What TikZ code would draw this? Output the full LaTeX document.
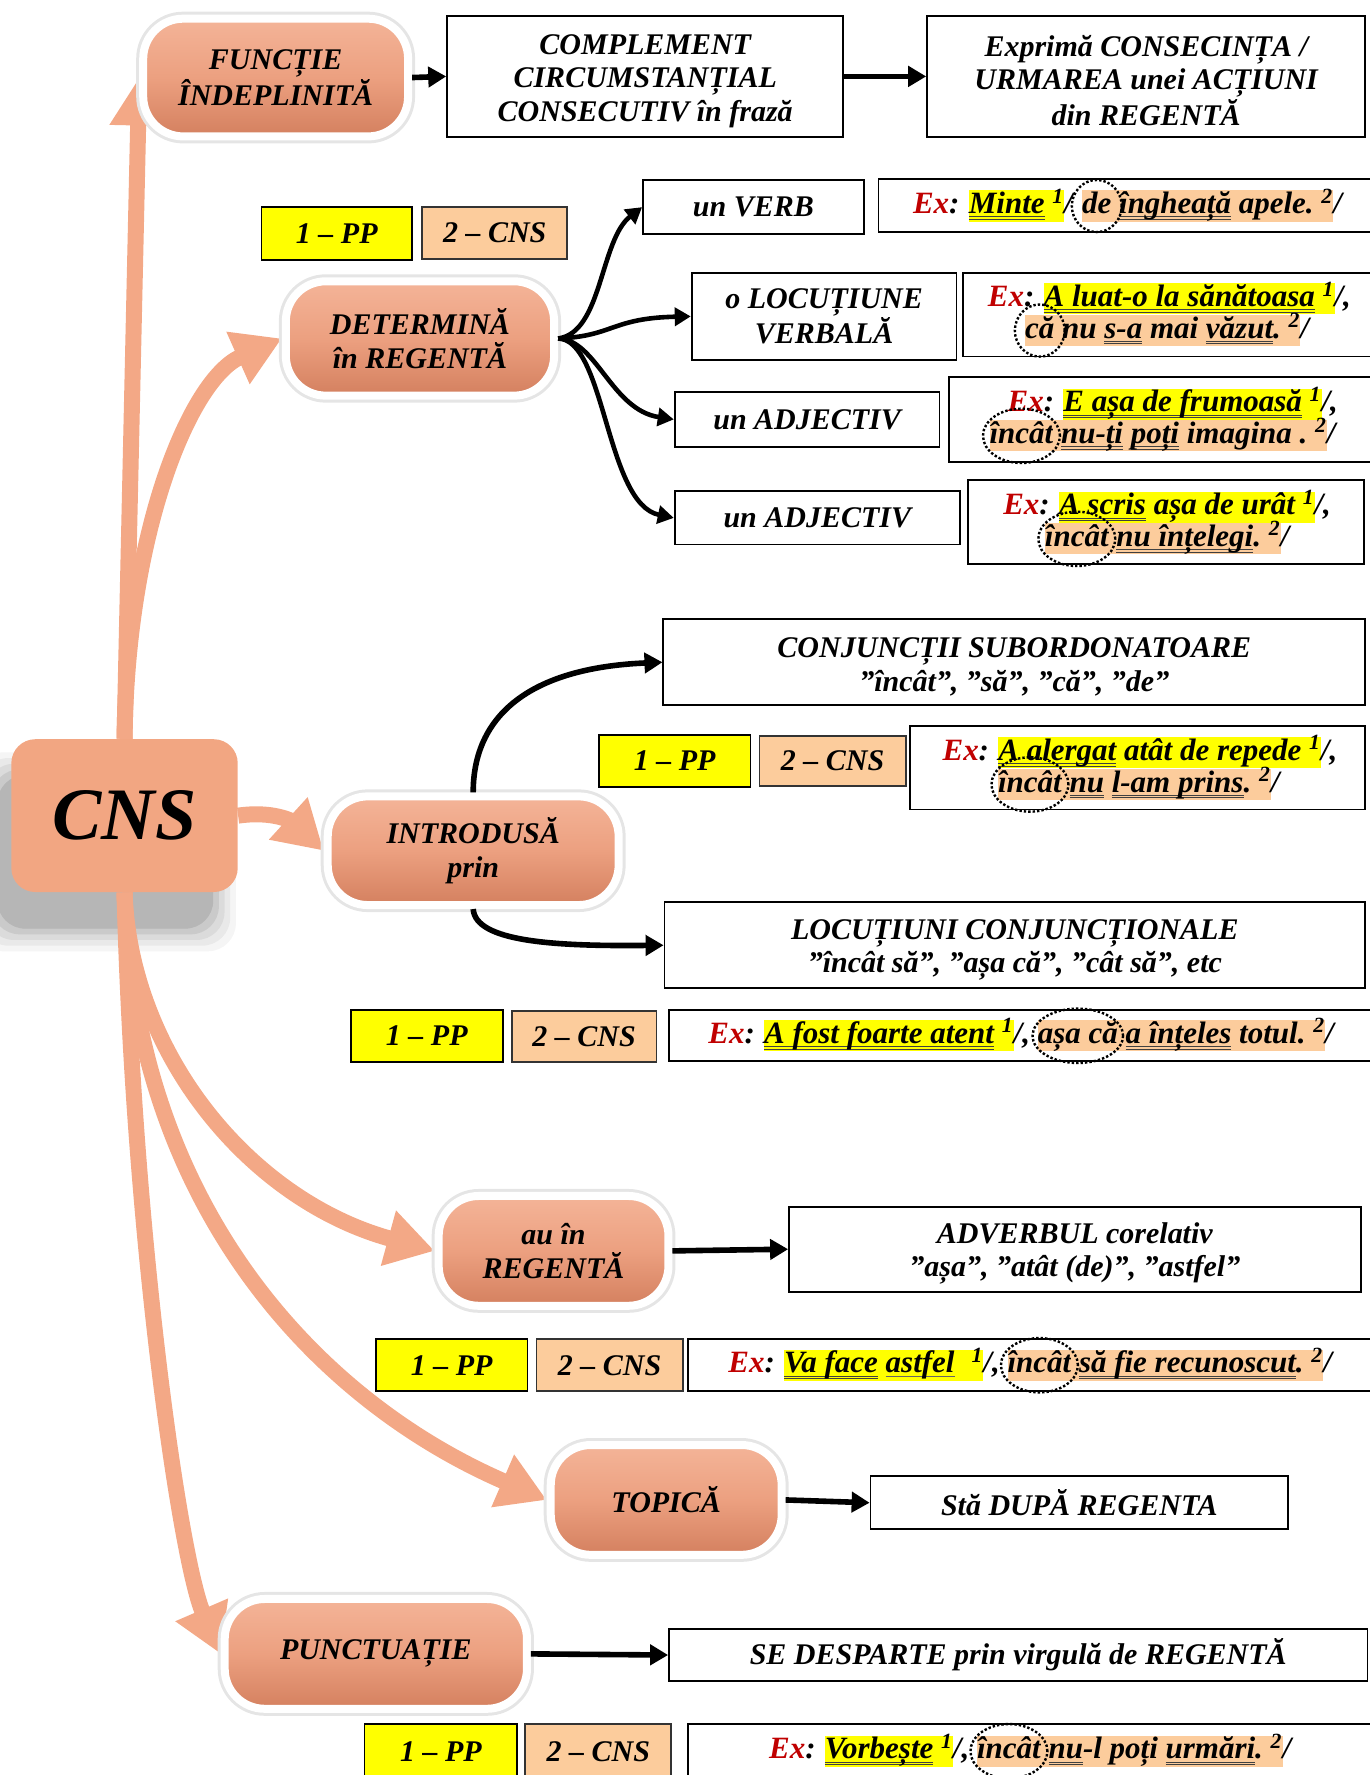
\documentclass[tikz,border=0pt]{standalone}
\usepackage{fontspec}
\setmainfont{Liberation Serif}
\usetikzlibrary{arrows.meta,shapes.geometric,shadows,fit,matrix,backgrounds,calc}
\definecolor{salm}{RGB}{243,168,134}
\definecolor{pilltop}{RGB}{244,180,152}
\definecolor{pillmid}{RGB}{236,160,128}
\definecolor{pillbot}{RGB}{212,128,95}
\definecolor{cnsfill}{RGB}{242,166,130}
\definecolor{hly}{RGB}{255,255,0}
\definecolor{hlo}{RGB}{252,204,156}
\definecolor{exred}{RGB}{192,0,0}
\newcommand\boxf{\fontsize{15}{16.8}\selectfont\bfseries\itshape}
\newcommand\exf{\fontsize{15.5}{16.5}\selectfont\bfseries\itshape}
\newcommand\cnsf{\fontsize{37}{40}\selectfont\bfseries\itshape}
\newcommand\exlab{{\color{exred}Ex}:\kern0.3em}
\newcommand\supn[1]{\kern0.25em\textsuperscript{#1}}
\newsavebox\ulbox
\newcommand\uul[1]{\sbox\ulbox{#1}\rlap{\color{black!75}\rule[-1.9pt]{\wd\ulbox}{0.5pt}}\rlap{\color{black!75}\rule[-3.1pt]{\wd\ulbox}{0.5pt}}\usebox\ulbox}
\newcommand\sul[1]{\sbox\ulbox{#1}\rlap{\color{black!60}\rule[-2.2pt]{\wd\ulbox}{0.5pt}}\usebox\ulbox}
\newcommand\tstrut{\rule{0pt}{14.5pt}}
\def\pxu{0.5661pt}
\tikzset{
  pill/.style={rounded corners=20pt, draw=white, line width=4pt, top color=pilltop, bottom color=pillbot, middle color=pillmid,
    drop shadow={shadow xshift=1pt, shadow yshift=-3pt, opacity=0.3},
    preaction={draw=black!10, line width=7pt},
    align=center, font=\boxf, inner sep=0pt},
  tbox/.style={draw=black, line width=0.9pt, fill=white, align=center, font=\boxf, inner sep=0pt},
  tagy/.style={draw=black, line width=0.9pt, fill=hly, font=\boxf, inner sep=0pt},
  tago/.style={draw=black!80, line width=0.9pt, fill=hlo, font=\boxf, inner sep=0pt},
  sarrow/.style={draw=salm, line width=8pt, -{Triangle[width=27pt,length=24pt]}},
  barrow/.style={draw=black, line width=2.8pt, -{Triangle[width=10pt,length=9pt]}},
  carrow/.style={draw=black, line width=2.3pt, -{Triangle[width=9pt,length=8pt]}},
  exline/.style={matrix of nodes, column sep=0pt, inner sep=0pt,
    nodes={anchor=base, inner xsep=0pt, inner ysep=0.3pt, text height=11.3pt, text depth=3.7pt, font=\exf}},
  hy/.style={fill=hly},
  ho/.style={fill=hlo},
  circ/.style={ellipse, draw=black, densely dotted, line width=1.2pt, inner sep=0pt},
  csmall/.style={circ, minimum width=44*\pxu, minimum height=46*\pxu},
  cmid/.style={circ, minimum width=68*\pxu, minimum height=48*\pxu},
  cwide/.style={circ, minimum width=80*\pxu, minimum height=48*\pxu},
}
\begin{document}
\begin{tikzpicture}[x=\pxu, y=-\pxu]
\useasboundingbox (0,0) rectangle (1210,1568);

% ---------- main nodes ----------
\node[fill=cnsfill, rounded corners=12pt, minimum width=200*\pxu, minimum height=135*\pxu, font=\cnsf, inner sep=0pt] (cns) at (110,720.5) {CNS};

\node[pill, minimum width=234*\pxu, minimum height=104*\pxu] (fun) at (243.5,68.5) {FUNCȚIE\\ÎNDEPLINITĂ};
\node[pill, minimum width=237*\pxu, minimum height=101*\pxu] (det) at (371,299) {DETERMINĂ\\în REGENTĂ};
\node[pill, minimum width=257*\pxu, minimum height=96*\pxu] (intro) at (418,751.5) {INTRODUSĂ\\prin};
\node[pill, minimum width=203*\pxu, minimum height=97*\pxu] (au) at (489,1105) {au în\\REGENTĂ};
\node[pill, minimum width=204*\pxu, minimum height=97*\pxu] (top) at (588.5,1325) {TOPICĂ};
\node[pill, minimum width=267*\pxu, minimum height=97*\pxu] (pun) at (332,1461) {PUNCTUAȚIE};

% ---------- text boxes ----------
\node[tbox, minimum width=350*\pxu, minimum height=107*\pxu] (comp) at (570,67.5) {\tstrut COMPLEMENT\\CIRCUMSTANȚIAL\\CONSECUTIV în frază};
\node[tbox, minimum width=387*\pxu, minimum height=107*\pxu] (expr) at (1012.5,67.5) {\tstrut Exprimă CONSECINȚA /\\URMAREA unei ACȚIUNI\\din REGENTĂ};
\node[tbox, minimum width=195*\pxu, minimum height=48*\pxu] (verb) at (665.5,183) {un VERB};
\node[tbox, minimum width=234*\pxu, minimum height=77*\pxu] (locv) at (728,279.5) {o LOCUȚIUNE\\VERBALĂ};
\node[tbox, minimum width=234*\pxu, minimum height=49*\pxu] (adj1) at (713,370.5) {un ADJECTIV};
\node[tbox, minimum width=252*\pxu, minimum height=47*\pxu] (adj2) at (722,457.5) {un ADJECTIV};
\node[tbox, minimum width=620*\pxu, minimum height=76*\pxu] (conj) at (896,585) {\tstrut CONJUNCȚII SUBORDONATOARE\\”încât”, ”să”, ”că”, ”de”};
\node[tbox, minimum width=619*\pxu, minimum height=76*\pxu] (loc) at (896.5,835) {\tstrut LOCUȚIUNI CONJUNCȚIONALE\\”încât să”, ”așa că”, ”cât să”, etc};
\node[tbox, minimum width=505*\pxu, minimum height=75*\pxu] (adv) at (949.5,1103.5) {\tstrut ADVERBUL corelativ\\”așa”, ”atât (de)”, ”astfel”};
\node[tbox, minimum width=369*\pxu, minimum height=47*\pxu] (sta) at (953.5,1327.5) {Stă DUPĂ REGENTA};
\node[tbox, minimum width=617*\pxu, minimum height=46*\pxu] (se) at (899.5,1462) {SE DESPARTE prin virgulă de REGENTĂ};

% ---------- example boxes ----------
\node[tbox, minimum width=440*\pxu, minimum height=47*\pxu] (ex1) at (996,181.5) {};
\node[tbox, minimum width=365*\pxu, minimum height=74*\pxu] (ex2) at (1033.5,278) {};
\node[tbox, minimum width=378*\pxu, minimum height=75*\pxu] (ex3) at (1027,370.5) {};
\node[tbox, minimum width=350*\pxu, minimum height=74*\pxu] (ex4) at (1030,461) {};
\node[tbox, minimum width=402*\pxu, minimum height=74*\pxu] (exA) at (1005,678) {};
\node[tbox, minimum width=625*\pxu, minimum height=45*\pxu] (exB) at (903.5,914.5) {};
\node[tbox, minimum width=608*\pxu, minimum height=46*\pxu] (exC) at (912,1206) {};
\node[tbox, minimum width=608*\pxu, minimum height=57*\pxu] (exD) at (912,1551.5) {};

% ---------- tags ----------
\node[tagy, minimum width=133*\pxu, minimum height=47*\pxu] (t1a) at (297.5,206.5) {1 – PP};
\node[tago, minimum width=128*\pxu, minimum height=46*\pxu] (t1b) at (437,206) {2 – CNS};
\node[tagy, minimum width=134*\pxu, minimum height=46*\pxu] (t2a) at (596,672) {1 – PP};
\node[tago, minimum width=129*\pxu, minimum height=44*\pxu] (t2b) at (735.5,672) {2 – CNS};
\node[tagy, minimum width=134*\pxu, minimum height=46*\pxu] (t3a) at (377,915) {1 – PP};
\node[tago, minimum width=128*\pxu, minimum height=45*\pxu] (t3b) at (516,915.5) {2 – CNS};
\node[tagy, minimum width=134*\pxu, minimum height=46*\pxu] (t4a) at (399,1206) {1 – PP};
\node[tago, minimum width=129*\pxu, minimum height=46*\pxu] (t4b) at (538.5,1206) {2 – CNS};
\node[tagy, minimum width=135*\pxu, minimum height=48*\pxu] (t5a) at (389.5,1547) {1 – PP};
\node[tago, minimum width=129*\pxu, minimum height=48*\pxu] (t5b) at (528.5,1547) {2 – CNS};

% ---------- example lines ----------
\matrix (m1) [exline] at (996,182) {
 \exlab & |[hy]| \uul{Minte}\supn{1} & /\kern0.3em & |[ho]| de & |[ho]| \kern0.25em\uul{îngheață} apele.\supn{2} & / \\
};
\node[csmall] (o1) at (m1-1-4.center) {};

\matrix (m2a) [exline] at (1033,264) {
 \exlab & |[hy]| \uul{A luat-o la sănătoasa}\supn{1} & /, \\
};
\matrix (m2b) [exline] at (1031,292) {
 |[ho]| că & |[ho]| \kern0.25em nu \uul{s-a} mai \uul{văzut}.\supn{2} & / \\
};
\node[csmall] (o2) at (m2b-1-1.center) {};

\matrix (m3a) [exline] at (1036,357) {
 \exlab & |[hy]| \uul{E așa de frumoasă}\supn{1} & /, \\
};
\matrix (m3b) [exline] at (1027,385) {
 |[ho]| încât & |[ho]| \kern0.25em\uul{nu-ți} \uul{poți} imagina .\supn{2} & / \\
};
\node[cmid] (o3) at (m3b-1-1.center) {};

\matrix (m4a) [exline] at (1031,448) {
 \exlab & |[hy]| \uul{A scris} așa de urât\supn{1} & /, \\
};
\matrix (m4b) [exline] at (1031,476) {
 |[ho]| încât & |[ho]| \kern0.25em\uul{nu înțelegi}.\supn{2} & / \\
};
\node[cmid] (o4) at (m4b-1-1.center) {};

\matrix (mAa) [exline] at (1007,665) {
 \exlab & |[hy]| \uul{A alergat} atât de repede\supn{1} & /, \\
};
\matrix (mAb) [exline] at (1006,693) {
 |[ho]| încât & |[ho]| \kern0.25em\uul{nu} \uul{l-am prins}.\supn{2} & / \\
};
\node[cmid] (o5) at (mAb-1-1.center) {};

\matrix (mB) [exline] at (902,915) {
 \exlab & |[hy]| \uul{A fost foarte atent}\supn{1} & /,\kern0.25em & |[ho]| așa că & |[ho]| \kern0.25em\uul{a înțeles} totul.\supn{2} & / \\
};
\node[cwide] (o6) at (mB-1-4.center) {};

\matrix (mC) [exline] at (910,1206) {
 \exlab & |[hy]| \uul{Va face} \sul{astfel}\kern0.3em\supn{1} & /,\kern0.25em & |[ho]| încât & |[ho]| \kern0.25em\uul{să fie recunoscut}.\supn{2} & / \\
};
\node[cmid] (o7) at (mC-1-4.center) {};

\matrix (mD) [exline] at (910,1547) {
 \exlab & |[hy]| \uul{Vorbește}\supn{1} & /,\kern0.25em & |[ho]| încât & |[ho]| \kern0.25em\uul{nu}-l poți \uul{urmări}.\supn{2} & / \\
};
\node[cmid] (o8) at (mD-1-4.center) {};

% ---------- background: shadow of CNS and salmon arrows ----------
\begin{scope}[on background layer]
\foreach \e/\o in {0/0.10,5/0.08,10/0.06,15/0.05,20/0.04} {
  \fill[black, opacity=\o, rounded corners=14pt] ($(cns.south west)+(-12-\e,32+\e)$) rectangle ($(cns.north east)+(-22+\e,32-\e)$);
}
\draw[sarrow] (cns.north) -- (fun.west);
\draw[sarrow] (cns.north) .. controls (112,470) and (168,335) .. (det.west);
\draw[sarrow] (cns.east) .. controls (242,716) and (258,726) .. (intro.west);
\draw[sarrow] (cns.south) .. controls (115,930) and (220,1060) .. (au.west);
\draw[sarrow] (cns.south) .. controls (118,1060) and (275,1235) .. (top.west);
\draw[sarrow] (cns.south) .. controls (118,1100) and (160,1380) .. (pun.west);
\end{scope}

% ---------- black connectors ----------
\draw[barrow] (fun.east) -- (comp.west);
\draw[barrow] (comp.east) -- (expr.west);
\draw[carrow] (det.east) .. controls (532,294) and (530,212) .. (verb.west);
\draw[carrow] (det.east) .. controls (542,297) and (540,281) .. (locv.west);
\draw[carrow] (det.east) .. controls (527,300) and (540,362) .. (adj1.west);
\draw[carrow] (det.east) .. controls (535,300) and (535,445) .. (adj2.west);
\draw[barrow] (intro.north) .. controls (418,632) and (468,590) .. (conj.west);
\draw[barrow] (intro.south) .. controls (420,832) and (490,836) .. (loc.west);
\draw[barrow] (au.east) -- (adv.west);
\draw[barrow] (top.east) -- (sta.west);
\draw[barrow] (pun.east) -- (se.west);
\end{tikzpicture}
\end{document}
